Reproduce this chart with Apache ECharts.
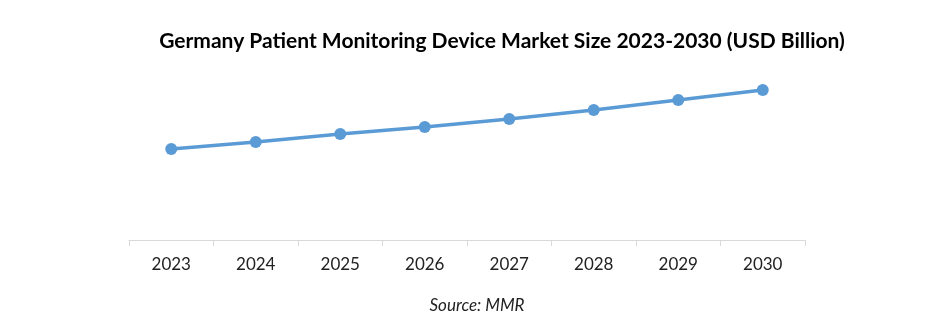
<!DOCTYPE html>
<html><head><meta charset="utf-8">
<script src="https://cdn.jsdelivr.net/npm/echarts@6/dist/echarts.min.js"></script>
<style>html,body{margin:0;padding:0;background:#fff}#c{width:941px;height:333px}</style>
</head><body><div id="c"></div>
<script>
const years = ['2023','2024','2025','2026','2027','2028','2029','2030'];
const marketSize = [1.82, 1.96, 2.12, 2.26, 2.42, 2.60, 2.80, 3.00];
const chart = echarts.init(document.getElementById('c'), null, {renderer:'canvas'});
chart.setOption({
  animation:false,
  backgroundColor:'#ffffff',
  title:[{
    text:'Germany Patient Monitoring Device Market Size 2023-2030 (USD Billion)',
    left:497, top:26, textAlign:'center',
    textStyle:{fontFamily:'Lato', fontWeight:'bold', fontSize:21, color:'#000'}
  },{
    text:'Source: MMR',
    left:472, top:292, textAlign:'center',
    textStyle:{fontFamily:'Lato', fontStyle:'italic', fontWeight:'normal', fontSize:17, color:'#222'}
  }],
  grid:{left:129, right:136, top:40, bottom:93},
  xAxis:{type:'category', data:years, boundaryGap:true,
    axisLine:{lineStyle:{color:'#d9d9d9', width:1}},
    axisTick:{show:true, length:6, lineStyle:{color:'#d9d9d9'}},
    axisLabel:{fontFamily:'Lato', fontSize:17, color:'#222', margin:16}},
  yAxis:{type:'value', min:0, max:4, show:false, splitLine:{show:false}},
  series:[{type:'line', data:marketSize, symbol:'circle', symbolSize:12,
    lineStyle:{color:'#5b9bd5', width:3.5}, itemStyle:{color:'#5b9bd5'}}]
});
</script></body></html>
